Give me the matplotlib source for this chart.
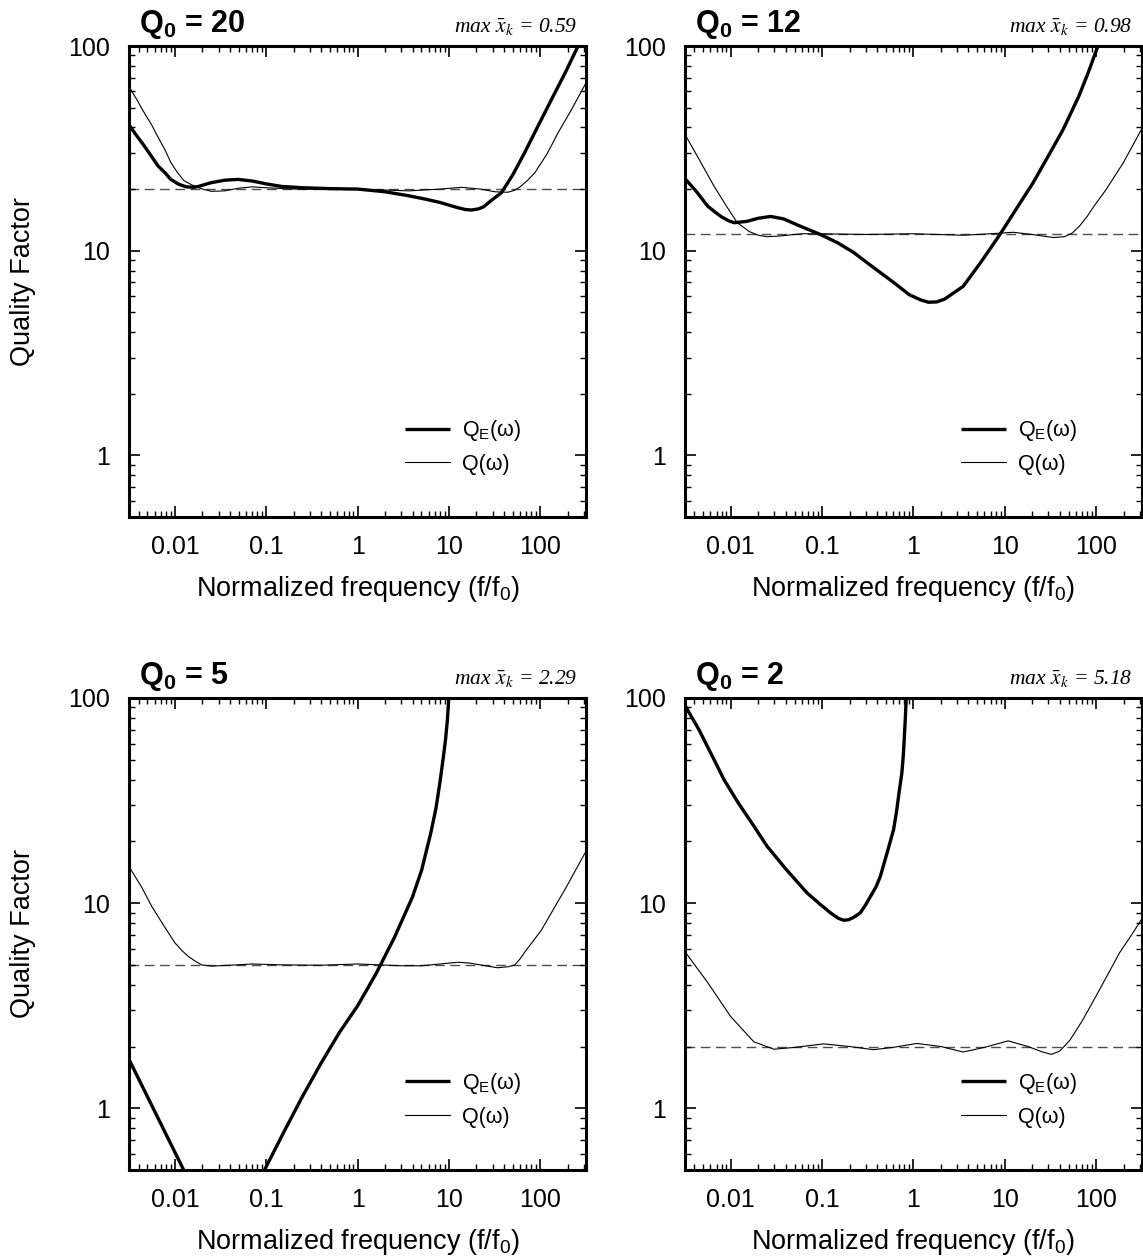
import numpy as np
import matplotlib
matplotlib.use("Agg")
import matplotlib.pyplot as plt
from matplotlib.ticker import LogLocator, NullFormatter, FixedLocator, FixedFormatter

# -- Fonts ---------------------------------------------------------------------

plt.rcParams["font.family"] = ["Liberation Sans", "DejaVu Sans"]
plt.rcParams["mathtext.fontset"] = "custom"
plt.rcParams["mathtext.rm"] = "Liberation Sans"
plt.rcParams["mathtext.it"] = "Liberation Sans:italic"
plt.rcParams["mathtext.bf"] = "Liberation Sans:bold"

# -- Data ---------------------------------------------------------------------

Q0_VALUES = [20, 12, 5, 2]
MAX_XK = ["0.59", "0.98", "2.29", "5.18"]

# Q0 = 20
qe20_f = [0.00316, 0.0038, 0.0045, 0.0055, 0.0065, 0.0078, 0.009, 0.011, 0.0134, 0.016,
          0.018, 0.025, 0.035, 0.049, 0.07, 0.1, 0.147, 0.25, 0.5, 1.0, 2.0, 3.5, 5.4,
          8, 12, 15, 17.6, 21, 24, 30, 37.5, 50, 67, 90, 132, 190, 259]
qe20_q = [41, 36.5, 33, 29, 26, 24, 22.3, 21.1, 20.5, 20.4,
          20.6, 21.5, 22.1, 22.3, 21.9, 21.2, 20.6, 20.3, 20.1, 20.0, 19.4, 18.6, 17.9,
          17.2, 16.3, 15.9, 15.8, 16.0, 16.4, 17.8, 19.2, 23.5, 30, 39, 54.6, 75, 100]
q20_f = [0.00316, 0.0038, 0.0045, 0.0055, 0.0065, 0.0078, 0.009, 0.0105, 0.0125, 0.0152,
         0.02, 0.025, 0.035, 0.05, 0.07, 0.1, 0.2, 1.0, 3.6, 8, 13.7, 22, 32, 44, 52,
         60, 72, 87, 120, 156, 220, 316]
q20_q = [63, 55, 48, 41.5, 36, 31, 27, 24.3, 22, 21, 20, 19.5, 19.6, 20.2, 20.5,
         20.3, 20.0, 20.0, 19.6, 20.0, 20.4, 20.0, 19.4, 19.3, 19.7,
         20.5, 22, 24, 30, 37.6, 49, 66]

# Q0 = 12
qe12_f = [0.00316, 0.0042, 0.0056, 0.0068, 0.008, 0.0095, 0.0109, 0.015, 0.02, 0.0274,
          0.038, 0.055, 0.096, 0.15, 0.222, 0.35, 0.607, 0.9, 1.2, 1.46, 1.8, 2.2, 3.52,
          5.5, 8.87, 14, 20.5, 30, 43.5, 65, 82, 105]
qe12_q = [22.5, 19.5, 16.5, 15.4, 14.6, 14.0, 13.7, 13.9, 14.4, 14.7,
          14.3, 13.3, 12.0, 10.9, 9.8, 8.4, 7.0, 6.1, 5.75, 5.6, 5.62, 5.8, 6.7,
          8.8, 12, 16.5, 21.5, 29, 39, 57, 74, 100]
q12_f = [0.00316, 0.0045, 0.0066, 0.009, 0.0118, 0.016, 0.02, 0.025, 0.035, 0.06, 0.1,
         0.3, 1.0, 3.5, 7, 12.4, 20, 34, 45, 55, 66, 80, 95, 129, 200, 313]
q12_q = [37, 28, 20.6, 16.5, 13.7, 12.4, 11.9, 11.7, 11.8, 12.1, 12.1,
         12.0, 12.1, 11.9, 12.1, 12.3, 12.0, 11.6, 11.7, 12.2, 13.2, 14.7, 16.5, 19.9,
         27, 39]

# Q0 = 5  (Q_E comes in two branches, cut by the lower axis limit)
qe5a_f = [0.00316, 0.014]
qe5a_q = [1.72, 0.45]
qe5b_f = [0.085, 0.0966, 0.158, 0.251, 0.398, 0.631, 1.0, 1.585, 2.51, 3.98, 5.01,
          6.31, 7.2, 7.94, 8.6, 9.16, 9.6, 9.95]
qe5b_q = [0.45, 0.505, 0.776, 1.15, 1.66, 2.34, 3.16, 4.52, 6.76, 10.7, 14.45,
          21.9, 29, 38.5, 50, 62.5, 78, 100]
q5_f = [0.00316, 0.0043, 0.0056, 0.0075, 0.01, 0.012, 0.014, 0.0168, 0.0196, 0.025,
        0.04, 0.07, 0.15, 0.4, 1.0, 3, 5, 8, 12.6, 17, 22, 34, 45, 52.5, 60, 70, 85,
        103, 150, 185, 250, 316]
q5_q = [15, 12, 9.6, 7.8, 6.4, 5.85, 5.5, 5.2, 5.0, 4.93,
        4.98, 5.05, 5.0, 4.98, 5.05, 4.95, 4.95, 5.05, 5.15, 5.1, 5.0, 4.84, 4.9, 5.0,
        5.35, 5.9, 6.6, 7.4, 9.9, 11.6, 14.8, 17.9]

# Q0 = 2
qe2_f = [0.00316, 0.0045, 0.0065, 0.00845, 0.012, 0.018, 0.0251, 0.04, 0.0687, 0.1,
         0.124, 0.15, 0.172, 0.195, 0.22, 0.262, 0.3, 0.34, 0.39, 0.435, 0.52, 0.607,
         0.655, 0.70, 0.748, 0.775, 0.794, 0.815, 0.834, 0.845]
qe2_q = [92, 70, 50.6, 40, 31, 23.7, 18.9, 14.7, 11.2, 9.7,
         8.96, 8.45, 8.25, 8.3, 8.5, 8.96, 9.8, 10.8, 12.0, 13.5, 17.8, 22.8,
         28, 35, 43, 52, 62.5, 78, 98, 110]
q2_f = [0.00316, 0.0056, 0.01, 0.0179, 0.0297, 0.05, 0.104, 0.2, 0.366, 0.6, 1.09, 2.0,
        3.5, 6, 10.9, 18, 26, 32.5, 40, 51.5, 70, 100, 135, 181, 240, 313]
q2_q = [5.8, 4.1, 2.8, 2.11, 1.94, 1.98, 2.06, 2.0, 1.93, 1.98, 2.07, 2.0,
        1.88, 1.98, 2.13, 2.0, 1.88, 1.83, 1.9, 2.14, 2.65, 3.52, 4.5, 5.73, 6.9, 8.3]

QE_CURVES = [[(qe20_f, qe20_q)], [(qe12_f, qe12_q)],
             [(qe5a_f, qe5a_q), (qe5b_f, qe5b_q)], [(qe2_f, qe2_q)]]
Q_CURVES = [(q20_f, q20_q), (q12_f, q12_q), (q5_f, q5_q), (q2_f, q2_q)]

# -- Figure --------------------------------------------------------------------

W, H = 1143, 1256
fig = plt.figure(figsize=(W / 100, H / 100), dpi=100)

# axes boxes in pixels: left, top, right, bottom
BOXES = [(129.3, 46, 586, 517), (685, 46, 1141.7, 517),
         (129.3, 698, 586, 1170), (685, 698, 1141.7, 1170)]

THICK = 2.4
THIN = 0.8

for i, (l, t, r, b) in enumerate(BOXES):
    ax = fig.add_axes([l / W, 1 - b / H, (r - l) / W, (b - t) / H])
    ax.set_xscale("log")
    ax.set_yscale("log")
    ax.set_xlim(10 ** -2.5, 10 ** 2.5)
    ax.set_ylim(0.5, 100)

    for k, (f, q) in enumerate(QE_CURVES[i]):
        ax.plot(f, q, color="black", lw=THICK, solid_capstyle="butt", solid_joinstyle="round",
                label=r"Q$_\mathrm{E}$(ω)" if k == 0 else None)
    f, q = Q_CURVES[i]
    ax.plot(f, q, color="black", lw=THIN, solid_joinstyle="round", label="Q(ω)")
    ax.axhline(Q0_VALUES[i], color="0.3", lw=1.0, ls=(0, (7, 4)), zorder=1)

    # ticks
    ax.xaxis.set_major_locator(FixedLocator([0.01, 0.1, 1, 10, 100]))
    ax.xaxis.set_major_formatter(FixedFormatter(["0.01", "0.1", "1", "10", "100"]))
    ax.xaxis.set_minor_locator(LogLocator(base=10, subs=np.arange(2, 10), numticks=20))
    ax.xaxis.set_minor_formatter(NullFormatter())
    ax.yaxis.set_major_locator(FixedLocator([1, 10, 100]))
    ax.yaxis.set_major_formatter(FixedFormatter(["1", "10", "100"]))
    ax.yaxis.set_minor_locator(LogLocator(base=10, subs=np.arange(2, 10), numticks=20))
    ax.yaxis.set_minor_formatter(NullFormatter())
    ax.tick_params(which="both", direction="in", top=True, right=True, labelsize=18)
    ax.tick_params(which="major", length=8, width=1.2)
    ax.tick_params(which="minor", length=4, width=1.0)
    ax.tick_params(axis="x", which="major", pad=13)
    ax.tick_params(axis="y", which="major", pad=14)
    for sp in ax.spines.values():
        sp.set_linewidth(2.2)

    ax.set_xlabel(r"Normalized frequency (f/f$_0$)", fontsize=19.5, labelpad=11)
    if i % 2 == 0:
        ax.set_ylabel("Quality Factor", fontsize=19.5)
        ax.yaxis.set_label_coords(-0.205, 0.5)

    ax.text(0.021, 1.03, r"Q$_\mathbf{0}$ = %d" % Q0_VALUES[i], transform=ax.transAxes,
            fontsize=22, fontweight="bold", ha="left", va="baseline")
    ax.text(0.98, 1.03, r"max $\bar{x}_k$ = %s" % MAX_XK[i],
            transform=ax.transAxes, fontsize=15.5, ha="right", va="baseline",
            family="Liberation Serif", style="italic", math_fontfamily="stix")

    ax.legend(loc="upper left", bbox_to_anchor=(0.604, 0.21), frameon=False,
              fontsize=15.5, handlelength=2.1, handletextpad=0.55, labelspacing=0.5,
              borderpad=0, borderaxespad=0)

fig.savefig("out.png", dpi=100)
